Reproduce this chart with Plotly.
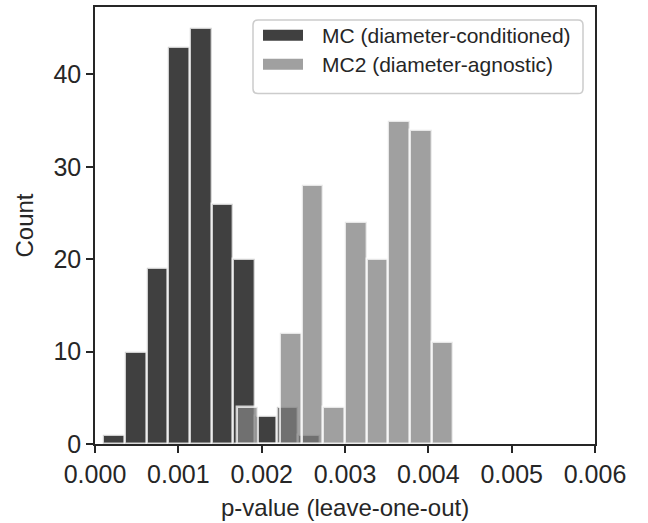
import plotly.graph_objects as go

# Histogram bins (left edges) and counts for the two Monte-Carlo variants
BIN_WIDTH = 0.00026

mc_bin_left = [0.00010, 0.00036, 0.00062, 0.00088, 0.00114,
               0.00140, 0.00166, 0.00192, 0.00218, 0.00244]
mc_counts = [1, 10, 19, 43, 45, 26, 20, 3, 4, 1]

mc2_bin_left = [0.00170, 0.00196, 0.00222, 0.00248, 0.00274,
                0.00300, 0.00326, 0.00352, 0.00378, 0.00404]
mc2_counts = [4, 0, 12, 28, 4, 24, 20, 35, 34, 11]

series_names = ["MC (diameter-conditioned)", "MC2 (diameter-agnostic)"]
series_fill = ["rgba(0,0,0,0.75)", "rgba(128,128,128,0.75)"]
edge_color = "rgba(255,255,255,0.75)"

x_ticks = [0.000, 0.001, 0.002, 0.003, 0.004, 0.005, 0.006]
y_ticks = [0, 10, 20, 30, 40]

INK = "#262626"
FONT = "Liberation Sans, Arimo, Arial, sans-serif"

fig = go.Figure()
for lefts, counts, name, fill in [
    (mc_bin_left, mc_counts, series_names[0], series_fill[0]),
    (mc2_bin_left, mc2_counts, series_names[1], series_fill[1]),
]:
    fig.add_trace(go.Bar(
        x=[l + BIN_WIDTH / 2 for l in lefts],
        y=counts,
        width=BIN_WIDTH,
        name=name,
        marker=dict(color=fill, line=dict(color=edge_color, width=2.4)),
        showlegend=False,
    ))

W, H = 648, 523
L, R, T, B = 95, 53, 5, 79
plot_w, plot_h = W - L - R, H - T - B

fig.update_layout(
    width=W, height=H,
    margin=dict(l=L, r=R, t=T, b=B, pad=0),
    paper_bgcolor="white", plot_bgcolor="white",
    barmode="overlay", bargap=0,
    font=dict(family=FONT, color=INK),
)

axis_common = dict(
    showline=True, linecolor=INK, linewidth=1.5, mirror=True,
    ticks="outside", ticklen=7, tickwidth=1.5, tickcolor=INK,
    showgrid=False, zeroline=False,
    tickfont=dict(family=FONT, size=25, color=INK),
)
fig.update_xaxes(range=[0, 0.006], tickvals=x_ticks,
                 ticktext=[f"{v:.3f}" for v in x_ticks], **axis_common)
fig.update_yaxes(range=[0, 47.3], tickvals=y_ticks, **axis_common)

# Axis titles
fig.add_annotation(text="p-value (leave-one-out)", xref="paper", yref="paper",
                   x=0.5, y=0, xanchor="center", yanchor="middle", yshift=-63,
                   showarrow=False, font=dict(family=FONT, size=24, color=INK))
fig.add_annotation(text="Count", xref="paper", yref="paper",
                   x=0, y=0.5, xanchor="center", yanchor="middle", xshift=-71,
                   textangle=-90, showarrow=False,
                   font=dict(family=FONT, size=24, color=INK))


# Legend drawn as a rounded frame with patches and labels (pixel -> paper)
def px_x(p):
    return (p - L) / plot_w


def px_y(p):
    return (H - B - p) / plot_h


def rounded_rect(x0, y0, x1, y1, r):
    ax0, ax1 = px_x(x0), px_x(x1)
    ay0, ay1 = px_y(y0), px_y(y1)  # ay0 is top
    rx, ry = r / plot_w, r / plot_h
    return (f"M{ax0 + rx},{ay0} L{ax1 - rx},{ay0} Q{ax1},{ay0} {ax1},{ay0 - ry} "
            f"L{ax1},{ay1 + ry} Q{ax1},{ay1} {ax1 - rx},{ay1} "
            f"L{ax0 + rx},{ay1} Q{ax0},{ay1} {ax0},{ay1 + ry} "
            f"L{ax0},{ay0 - ry} Q{ax0},{ay0} {ax0 + rx},{ay0} Z")


fig.add_shape(type="path", xref="paper", yref="paper",
              path=rounded_rect(253, 18, 583, 92, 5),
              fillcolor="rgba(255,255,255,0.8)",
              line=dict(color="#cccccc", width=1.5), layer="above")

row_centers = [33.3, 62.5]
for name, fill, yc in zip(series_names, series_fill, row_centers):
    fig.add_shape(type="rect", xref="paper", yref="paper",
                  x0=px_x(263), x1=px_x(303), y0=px_y(yc - 5.5), y1=px_y(yc + 5.5),
                  fillcolor=fill, line=dict(width=0), layer="above")
    fig.add_annotation(text=name, xref="paper", yref="paper",
                       x=px_x(321), y=px_y(yc), xanchor="left", yanchor="middle",
                       showarrow=False, borderpad=0,
                       font=dict(family=FONT, size=21, color=INK))

fig.write_html("out.html")
